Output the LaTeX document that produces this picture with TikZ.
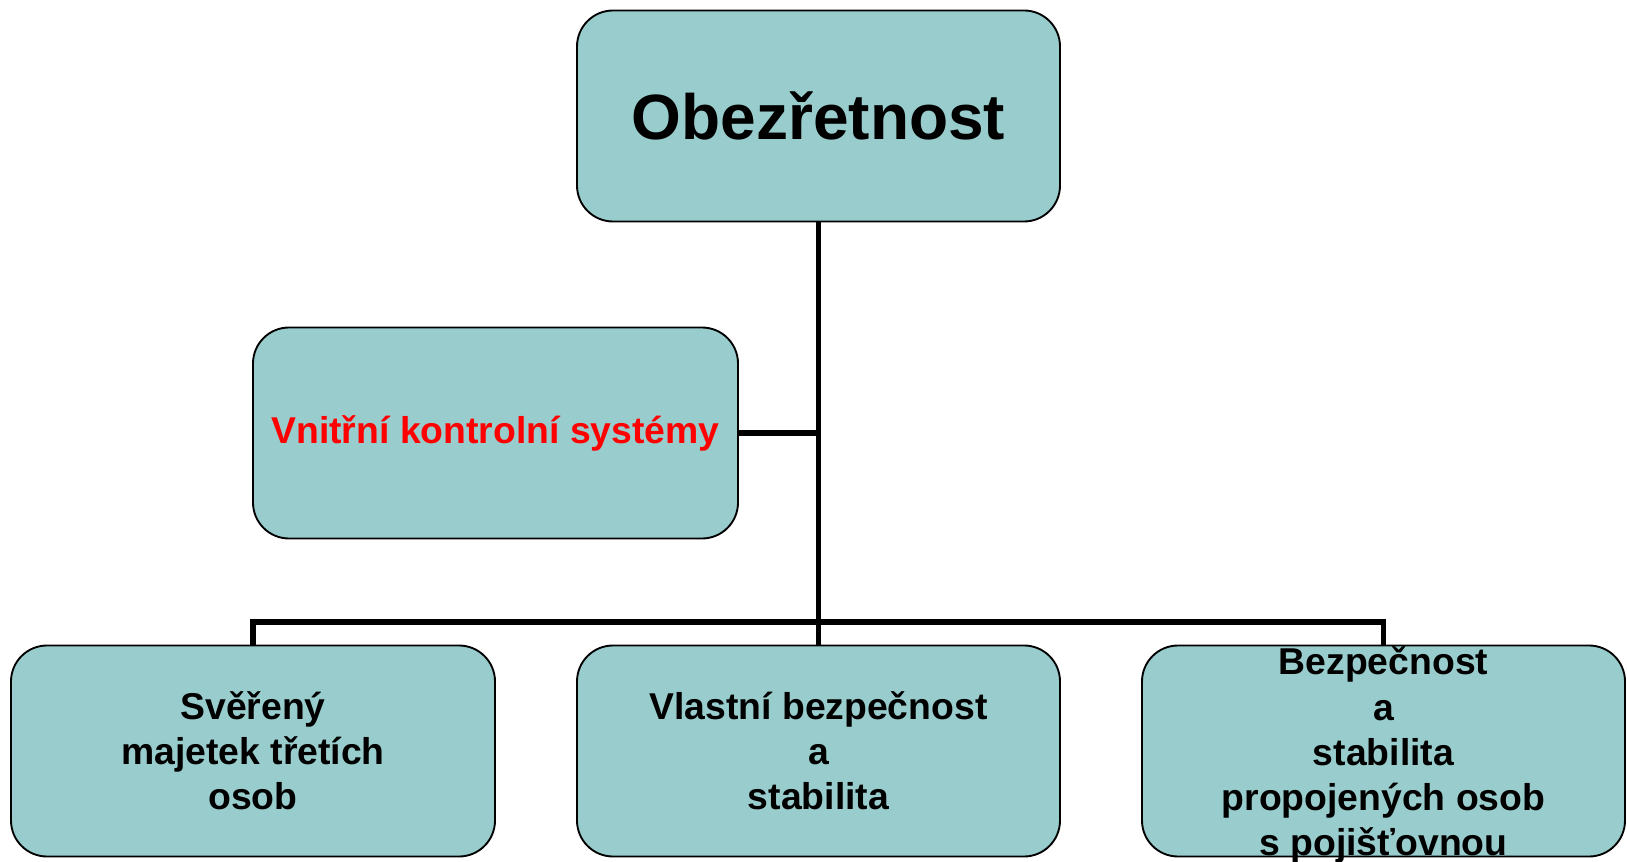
\documentclass[tikz,border=0pt]{standalone}
\usepackage{fontspec}
\setmainfont{Liberation Sans}
\definecolor{boxfill}{RGB}{153,204,204}
\definecolor{redtext}{RGB}{255,0,0}
\begin{document}
\begin{tikzpicture}[x=0.75pt,y=-0.75pt,
  boxtext/.style={inner sep=0pt,align=center,font=\fontsize{28}{33.8}\selectfont\bfseries},
  box/.style={boxtext,draw=black,line width=1.4pt,fill=boxfill,rounded corners=27pt,
    minimum width=#1*0.75pt,minimum height=211*0.75pt},
  box/.default=483,
  conn/.style={line width=3.8pt}]
\useasboundingbox (0,0) rectangle (1627,862);
\node[box,font=\fontsize{48}{58}\selectfont\bfseries] (top) at (818.5,116) {Obezřetnost};
\node[box=485,text=redtext] (vks) at (495.5,433) {Vnitřní kontrolní systémy};
\node[box=484] (b1) at (253,751) {Svěřený\\majetek třetích\\osob};
\node[box] (b2) at (818.5,751) {Vlastní bezpečnost\\a\\stabilita};
\node[box] (b3) at (1383.5,751) {};
\node[boxtext,yshift=-3pt] (b3text) at (b3.center) {Bezpečnost\\a\\stabilita\\propojených osob\\s pojišťovnou};
\coordinate (bus) at (818.5,622);
\draw[conn] (top.south) -- (b2.north);
\draw[conn] (b1.north) |- (bus) -| (b3.north);
\draw[conn] (vks.east) -- (vks.east -| top.south);
\end{tikzpicture}
\end{document}
